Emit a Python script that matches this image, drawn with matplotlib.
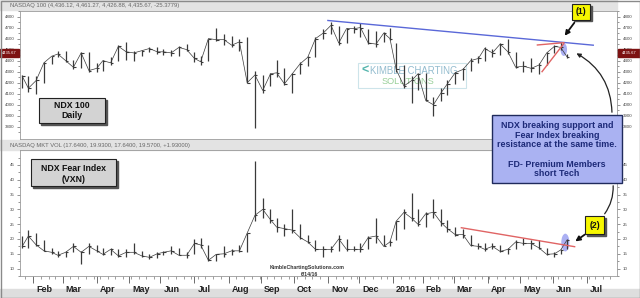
import numpy as np
import pandas as pd
import matplotlib.pyplot as plt
from matplotlib.patches import Rectangle, Ellipse, FancyArrowPatch

plt.rcParams['font.family'] = ['Liberation Sans', 'DejaVu Sans']

# market holidays (trading-day x axis, like the original chart)
holidays = ['2015-01-19', '2015-02-16', '2015-04-03', '2015-05-25', '2015-07-03',
            '2015-09-07', '2015-11-26', '2015-12-25', '2016-01-01', '2016-01-18',
            '2016-02-15', '2016-03-25', '2016-05-30', '2016-07-04']

# weekly bars (week starting Monday)
weeks = ['2015-01-19', '2015-01-26', '2015-02-02', '2015-02-09', '2015-02-16', '2015-02-23',
         '2015-03-02', '2015-03-09', '2015-03-16', '2015-03-23', '2015-03-30', '2015-04-06',
         '2015-04-13', '2015-04-20', '2015-04-27', '2015-05-04', '2015-05-11', '2015-05-18',
         '2015-05-25', '2015-06-01', '2015-06-08', '2015-06-15', '2015-06-22', '2015-06-29',
         '2015-07-06', '2015-07-13', '2015-07-20', '2015-07-27', '2015-08-03', '2015-08-10',
         '2015-08-17', '2015-08-24', '2015-08-31', '2015-09-07', '2015-09-14', '2015-09-21',
         '2015-09-28', '2015-10-05', '2015-10-12', '2015-10-19', '2015-10-26', '2015-11-02',
         '2015-11-09', '2015-11-16', '2015-11-23', '2015-11-30', '2015-12-07', '2015-12-14',
         '2015-12-21', '2015-12-28', '2016-01-04', '2016-01-11', '2016-01-18', '2016-01-25',
         '2016-02-01', '2016-02-08', '2016-02-15', '2016-02-22', '2016-02-29', '2016-03-07',
         '2016-03-14', '2016-03-21', '2016-03-28', '2016-04-04', '2016-04-11', '2016-04-18',
         '2016-04-25', '2016-05-02', '2016-05-09', '2016-05-16', '2016-05-23', '2016-05-30',
         '2016-06-06', '2016-06-13']

ndx_high = [4270, 4260, 4260, 4390, 4440, 4490, 4490, 4410, 4480, 4480, 4380, 4410,
            4430, 4540, 4570, 4490, 4500, 4520, 4520, 4510, 4500, 4530, 4550, 4480,
            4440, 4600, 4700, 4640, 4620, 4600, 4610, 4310, 4270, 4290, 4410, 4330,
            4290, 4390, 4440, 4610, 4690, 4750, 4710, 4700, 4710, 4740, 4690, 4670,
            4660, 4700, 4560, 4360, 4260, 4290, 4290, 4070, 4150, 4220, 4300, 4330,
            4420, 4440, 4520, 4510, 4560, 4600, 4480, 4400, 4420, 4380, 4480, 4540,
            4570, 4461]
ndx_low = [4150, 4120, 4100, 4200, 4370, 4430, 4390, 4320, 4330, 4300, 4300, 4310,
           4360, 4400, 4410, 4400, 4440, 4480, 4460, 4450, 4440, 4440, 4490, 4390,
           4360, 4400, 4580, 4540, 4520, 4490, 4200, 3790, 4110, 4170, 4250, 4180,
           4110, 4280, 4350, 4430, 4600, 4640, 4540, 4560, 4650, 4610, 4550, 4520,
           4570, 4590, 4300, 4150, 4020, 4130, 4030, 3900, 4030, 4090, 4190, 4220,
           4310, 4380, 4400, 4430, 4450, 4460, 4330, 4300, 4300, 4280, 4360, 4470,
           4500, 4427]
ndx_close = [4260, 4150, 4220, 4380, 4440, 4460, 4400, 4340, 4470, 4310, 4330, 4400,
             4380, 4530, 4480, 4470, 4490, 4510, 4480, 4480, 4470, 4520, 4500, 4420,
             4390, 4600, 4590, 4590, 4540, 4570, 4200, 4270, 4130, 4280, 4290, 4190,
             4280, 4370, 4430, 4600, 4650, 4720, 4560, 4690, 4690, 4700, 4560, 4550,
             4650, 4600, 4320, 4170, 4220, 4280, 4040, 4000, 4110, 4190, 4290, 4320,
             4400, 4420, 4510, 4470, 4550, 4480, 4340, 4350, 4330, 4360, 4470, 4530,
             4520, 4436]

vxn_high = [21, 23, 22, 19.5, 17, 15.8, 16, 18.5, 16, 18.5, 18, 17,
            17, 16.5, 16.5, 18.5, 16, 15, 15.5, 16, 17.5, 17, 15.5, 20,
            20.5, 18, 15, 17.5, 16.5, 18, 22, 46.5, 34, 30, 27, 25,
            30, 25, 21.5, 19.5, 17.5, 17.5, 21.5, 20, 17.5, 18.5, 21, 27,
            21.5, 19.5, 26, 30, 35.5, 30, 29, 33.5, 30, 26.5, 24, 23.5,
            21.5, 18.5, 18.5, 18.5, 18, 17, 19.5, 20.5, 19.5, 19.5, 17, 15.5,
            16.5, 19.93]
vxn_low = [17, 17, 17.5, 16, 15, 14, 14, 15.5, 11.5, 15, 15.5, 14.5,
           14.5, 14, 14, 15, 14, 13.2, 13.5, 14.5, 15, 14.5, 13.5, 15,
           17, 12.5, 12.5, 14, 14.5, 15.5, 15.5, 26, 27, 25.5, 22.5, 21,
           22, 20, 18.5, 16, 14, 15.5, 16, 16, 16, 15.5, 16.5, 18.5,
           17.5, 17.5, 19.5, 23.5, 26, 24.5, 24, 27, 24.5, 22.5, 21, 20.5,
           17.5, 16.5, 16, 16.5, 15.5, 15, 16.5, 18, 16.5, 16.5, 14.5, 14,
           14.8, 16.5]
vxn_close = [17.5, 21, 18, 16, 15.5, 14.5, 15.5, 17.5, 15.5, 17.5, 16, 14.8,
             16.5, 14.3, 15.5, 15.5, 14.3, 13.8, 15, 15.5, 16, 14.5, 14.5, 18.5,
             18, 12.8, 14.8, 15, 16, 16, 22, 28, 30, 26.5, 24, 23.5,
             23, 20.5, 19, 16.5, 16.5, 16.5, 20, 16.5, 16.5, 16.5, 20.5, 21,
             17.5, 19, 26, 29, 27, 25, 28.5, 29, 25.5, 23.5, 21.5, 21.5,
             17.8, 17.5, 16.5, 17.5, 15.8, 16.5, 19, 18.5, 18.5, 17, 14.8, 15,
             16.3, 19.57]

month_starts = ['2015-02', '2015-03', '2015-04', '2015-05', '2015-06', '2015-07', '2015-08',
                '2015-09', '2015-10', '2015-11', '2015-12', '2016-01', '2016-02', '2016-03',
                '2016-04', '2016-05', '2016-06', '2016-07']
month_labels = ['Feb', 'Mar', 'Apr', 'May', 'Jun', 'Jul', 'Aug', 'Sep', 'Oct', 'Nov', 'Dec',
                '2016', 'Feb', 'Mar', 'Apr', 'May', 'Jun', 'Jul']

# trend lines / highlights (date, value)
ndx_resist = (['2015-11-02', '2016-07-07'], [4764, 4540])
ndx_red1 = (['2016-05-17', '2016-06-10'], [4542, 4563])
ndx_red2 = (['2016-05-20', '2016-06-10'], [4300, 4554])
vxn_resist = (['2016-03-08', '2016-06-21'], [23.8, 17.4])

START = '2015-02-02'
LAST = '2016-06-14'


def tidx(d):
    d = np.datetime64(d, 'D')
    d = np.busday_offset(d, 0, roll='forward', holidays=holidays)
    return float(np.busday_count(START, d, holidays=holidays))


last_i = tidx(LAST)
xw = np.array([min(tidx(w) + 2, last_i) for w in weeks])

W, H = 640, 298
fig = plt.figure(figsize=(W / 100, H / 100), dpi=100)
fig.patch.set_facecolor('white')


def px_axes(x0, y0, x1, y1, **kw):
    return fig.add_axes([x0 / W, 1 - y1 / H, (x1 - x0) / W, (y1 - y0) / H], **kw)


# background layer (pixel coords)
bg = px_axes(0, 0, W, H, zorder=-1)
bg.set_xlim(0, W)
bg.set_ylim(H, 0)
bg.axis('off')
bg.add_patch(Rectangle((0, 0), 617, 10, color='#e3e3e3'))
bg.add_patch(Rectangle((0, 140), 617, 10, color='#e3e3e3'))
bg.add_patch(Rectangle((0, 289), W, 9, color='#dedede'))
bg.text(10, 5.3, 'NASDAQ 100 (4,436.12, 4,461.27, 4,426.88, 4,435.67, -25.3779)',
        fontsize=4.2, color='#666666', va='center')
bg.text(10, 145.3, 'NASDAQ MKT VOL (17.6400, 19.9300, 17.6400, 19.5700, +1.93000)',
        fontsize=4.2, color='#666666', va='center')
# watermark
bg.add_patch(Rectangle((358, 63), 108, 25, fill=False, ec='#cde4ea', lw=0.8))
bg.text(362, 71, '<', fontsize=9, color='#55b5ad', va='center', fontweight='bold')
bg.text(370, 71, 'KIMBLE CHARTING', fontsize=6.9, color='#93bccf', va='center')
bg.text(382, 81, 'SOLUTIONS', fontsize=6.6, color='#98cf98', va='center')
bg.text(270, 268, 'KimbleChartingSolutions.com', fontsize=3.7, fontweight='bold',
        color='#333333', va='center')
bg.text(318, 274, '6/14/16', fontsize=3.7, fontweight='bold', color='#333333',
        va='center', ha='right')

xlim = (-8.4, 376.3)
bar_c = '#3a3a3a'

# top panel: NDX
ax1 = px_axes(20, 11, 617, 139)
ax1.set_facecolor('none')
ax1.vlines(xw, ndx_low, ndx_high, color=bar_c, lw=0.9)
ax1.hlines(ndx_close, xw, xw + 1.6, color=bar_c, lw=0.8)
ax1.plot(xw, ndx_close, color=bar_c, lw=0.5)
ax1.set_xlim(*xlim)
ax1.set_ylim(3689.6, 4838.6)
ax1.set_yticks(np.arange(3800, 4801, 100))
ax1.set_yticks(np.arange(3750, 4851, 50), minor=True)
ax1.set_xticks([])

tx = lambda ds: [tidx(d) if pd.Timestamp(d) <= pd.Timestamp(LAST) else
                 tidx(LAST) + np.busday_count(LAST, d) for d in ds]
ax1.plot(tx(ndx_resist[0]), ndx_resist[1], color='#5a68d8', lw=1)
ax1.plot(tx(ndx_red1[0]), ndx_red1[1], color='#e06464', lw=1)
ax1.plot(tx(ndx_red2[0]), ndx_red2[1], color='#e06464', lw=1)
ax1.add_patch(Ellipse((tidx('2016-06-10'), 4500), 4.2, 115, color='#7f86ee', alpha=0.65,
                      lw=0))

# bottom panel: VXN
ax2 = px_axes(20, 150, 617, 276)
ax2.set_facecolor('none')
ax2.vlines(xw, vxn_low, vxn_high, color=bar_c, lw=0.9)
ax2.hlines(vxn_close, xw, xw + 1.6, color=bar_c, lw=0.8)
ax2.plot(xw, vxn_close, color=bar_c, lw=0.5)
ax2.set_xlim(*xlim)
ax2.set_ylim(7.64, 50.05)
ax2.set_yticks(np.arange(10, 46, 5))
ax2.set_yticks(np.arange(7.5, 50, 2.5), minor=True)
ax2.plot(tx(vxn_resist[0]), vxn_resist[1], color='#e06464', lw=1)
ax2.add_patch(Ellipse((tidx('2016-06-13'), 18.8), 5.2, 6.0, color='#7f86ee', alpha=0.65,
                      lw=0))

mticks = [tidx(m + '-01') for m in month_starts]
wticks = [tidx(d) for d in pd.date_range('2015-01-26', '2016-07-25', freq='W-MON')]
ax2.set_xticks(mticks)
ax2.set_xticklabels([])
ax2.set_xticks(wticks, minor=True)
ax2.tick_params(axis='x', which='major', length=5, width=0.6, color='#555555')
ax2.tick_params(axis='x', which='minor', length=2.5, width=0.5, color='#777777')
for t, lab in zip(mticks, month_labels):
    ax2.text(t + 2, -0.075, lab, transform=ax2.get_xaxis_transform(), fontsize=6.5,
             fontweight='bold', color='#222222', va='top', ha='left')

for ax in (ax1, ax2):
    ax.tick_params(axis='y', which='both', left=True, right=True, labelleft=True,
                   labelright=True, labelsize=3.2, width=0.4, colors='#444444', pad=1.5)
    ax.tick_params(axis='y', which='major', length=2.5)
    ax.tick_params(axis='y', which='minor', length=1.5)
    for s in ax.spines.values():
        s.set_color('#9a9a9a')
        s.set_linewidth(0.6)

# annotation layer (pixel coords)
ov = px_axes(0, 0, W, H, zorder=5)
ov.set_xlim(0, W)
ov.set_ylim(H, 0)
ov.axis('off')


def label_box(x0, y0, x1, y1, lines, ys, fc, size):
    ov.add_patch(Rectangle((x0 + 1.5, y0 + 1.5), x1 - x0, y1 - y0, color='#555555'))
    ov.add_patch(Rectangle((x0, y0), x1 - x0, y1 - y0, fc=fc, ec='#222222', lw=0.8))
    for s, y in zip(lines, ys):
        ov.text((x0 + x1) / 2, y, s, ha='center', va='center', fontsize=size,
                fontweight='bold', color='#111111')


label_box(39, 98, 105, 123, ['NDX 100', 'Daily'], [106, 115.7], '#d3d3d3', 6.3)
label_box(31, 159, 116, 186, ['NDX Fear Index', '(VXN)'], [168.3, 179], '#d3d3d3', 6.3)
label_box(572, 4, 590, 19.5, ['(1)'], [12], '#f7f700', 6.3)
label_box(585, 216, 604, 234, ['(2)'], [225.5], '#f7f700', 6.3)

# price markers
for x0 in (0, 618):
    ov.add_patch(Rectangle((x0, 49), 19 if x0 == 0 else 22, 7.5, color='#7d1212'))
    ov.text(x0 + (9.5 if x0 == 0 else 11), 52.8, '4435.67', fontsize=3, color='white',
            ha='center', va='center')

# text box
ov.add_patch(Rectangle((492, 115), 130, 68, fc='#aab2f2', ec='#1f2a5c', lw=1.0))
for s, y in zip(['NDX breaking support and', 'Fear Index breaking',
                 'resistance at the same time.', 'FD- Premium Members', 'short Tech'],
                [125.5, 135.2, 144.8, 164.3, 174]):
    ov.text(557, y, s, ha='center', va='center', fontsize=6.4, fontweight='bold',
            color='#1d2a78')

ov.add_patch(FancyArrowPatch((612, 115), (574, 52), connectionstyle='arc3,rad=0.3',
                             arrowstyle='-|>', mutation_scale=6, lw=0.9, color='#222222'))
ov.add_patch(FancyArrowPatch((613, 183), (603, 216), connectionstyle='arc3,rad=-0.2',
                             arrowstyle='-', lw=0.9, color='#222222'))
ov.add_patch(FancyArrowPatch((576, 20.5), (563, 38), arrowstyle='-|>', mutation_scale=7,
                             lw=1.3, color='#111111'))
ov.add_patch(FancyArrowPatch((587, 233), (573, 243), arrowstyle='-|>', mutation_scale=7,
                             lw=1.3, color='#111111'))

ov.add_patch(Rectangle((0.5, 0.5), W - 1, H - 1, fill=False, ec='#8a8a8a', lw=1))

fig.savefig('out.png', dpi=100)
